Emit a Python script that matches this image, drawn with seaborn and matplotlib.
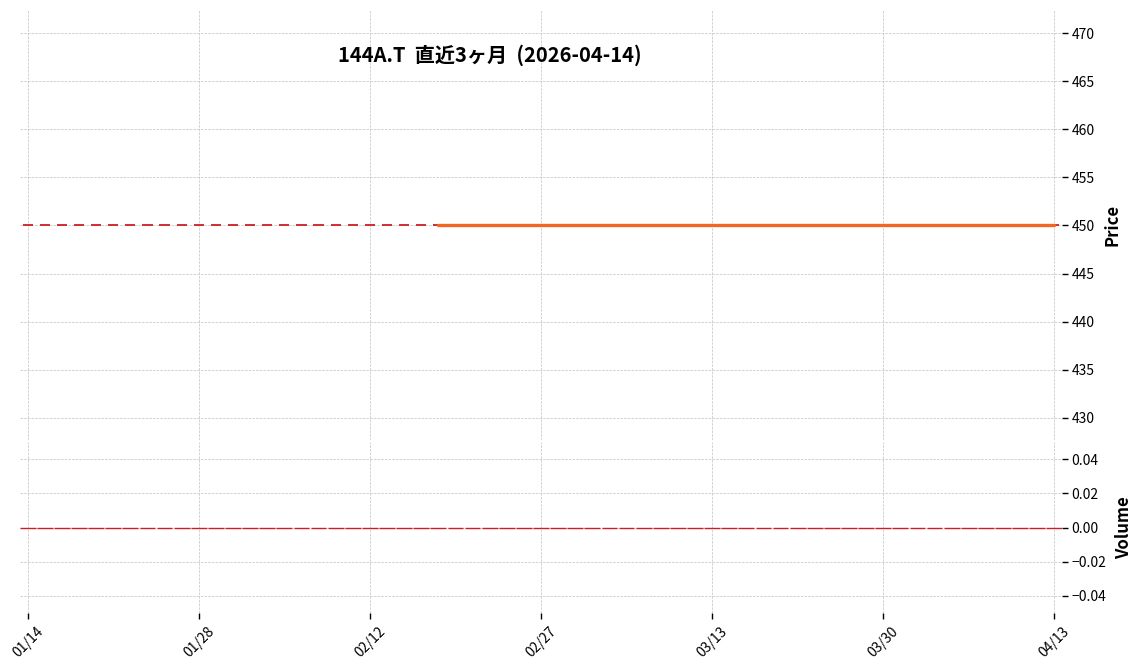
import pandas as pd
import numpy as np
import matplotlib
matplotlib.use("Agg")
import matplotlib.pyplot as plt
import seaborn as sns

# -------------------------------
# Data (trading days, 144A.T, last 3 months)
# -------------------------------
dates = [
    "2026-01-14", "2026-01-15", "2026-01-16", "2026-01-19", "2026-01-20",
    "2026-01-21", "2026-01-22", "2026-01-23", "2026-01-26", "2026-01-27",
    "2026-01-28", "2026-01-29", "2026-01-30", "2026-02-02", "2026-02-03",
    "2026-02-04", "2026-02-05", "2026-02-06", "2026-02-09", "2026-02-10",
    "2026-02-12", "2026-02-13", "2026-02-16", "2026-02-17", "2026-02-18",
    "2026-02-19", "2026-02-20", "2026-02-24", "2026-02-25", "2026-02-26",
    "2026-02-27", "2026-03-02", "2026-03-03", "2026-03-04", "2026-03-05",
    "2026-03-06", "2026-03-09", "2026-03-10", "2026-03-11", "2026-03-12",
    "2026-03-13", "2026-03-16", "2026-03-17", "2026-03-18", "2026-03-19",
    "2026-03-23", "2026-03-24", "2026-03-25", "2026-03-26", "2026-03-27",
    "2026-03-30", "2026-03-31", "2026-04-01", "2026-04-02", "2026-04-03",
    "2026-04-06", "2026-04-07", "2026-04-08", "2026-04-09", "2026-04-10",
    "2026-04-13",
]
# price never moved: every bar is a doji at 450, no volume traded
open_ = [450.0] * len(dates)
close = [450.0] * len(dates)
volume = [0] * len(dates)
tick_labels = ["01/14", "01/28", "02/12", "02/27", "03/13", "03/30", "04/13"]

df = pd.DataFrame({"date": pd.to_datetime(dates), "open": open_,
                   "close": close, "volume": volume})
df["idx"] = np.arange(len(df))
df["ma25"] = df["close"].rolling(25).mean()

# -------------------------------
# Style
# -------------------------------
sns.set_style("whitegrid", {"grid.color": "#c0c0c0", "grid.linestyle": "--",
                            "axes.edgecolor": "white"})
plt.rcParams["font.family"] = ["Noto Sans CJK JP", "DejaVu Sans"]
plt.rcParams["text.color"] = "black"
plt.rcParams["axes.labelcolor"] = "black"
plt.rcParams["xtick.color"] = "black"
plt.rcParams["ytick.color"] = "black"

fig = plt.figure(figsize=(11.41, 6.70), dpi=100)
W, H = 1141, 670
left, right = 20 / W, 1062 / W
ax_p = fig.add_axes([left, 1 - 440 / H, right - left, 430 / H])
ax_v = fig.add_axes([left, 1 - 613 / H, right - left, 171 / H], sharex=ax_p)

red = "#cc1f24"
orange = "#f26522"

# candles (doji -> flat body edges)
ax_p.bar(df["idx"], df["close"] - df["open"], bottom=df["open"], width=0.6,
         color=red, edgecolor=red, linewidth=1.3, zorder=3)
sns.lineplot(data=df, x="idx", y="ma25", color=orange, linewidth=2.4,
             ax=ax_p, zorder=4)

# volume
ax_v.bar(df["idx"], df["volume"], width=0.92, color=red, edgecolor=red,
         linewidth=1.0, zorder=3)

ax_p.set_xlim(-0.45, len(df) - 1 + 0.45)
ax_p.set_ylim(427.7, 472.4)
ax_p.set_yticks(np.arange(430, 471, 5))
ax_v.set_ylim(-0.05, 0.05)
ax_v.set_yticks([-0.04, -0.02, 0.0, 0.02, 0.04])
ax_v.set_yticklabels(["\u22120.04", "\u22120.02", "0.00", "0.02", "0.04"])

tick_pos = [dates.index(pd.Timestamp(f"2026-{t[:2]}-{t[3:]}").strftime("%Y-%m-%d"))
            for t in tick_labels]
ax_v.set_xticks(tick_pos)
ax_v.set_xticklabels(tick_labels, rotation=45, ha="center", fontsize=10)
ax_p.tick_params(axis="x", labelbottom=False, length=0)

for ax, lab in [(ax_p, "Price"), (ax_v, "Volume")]:
    for s in ax.spines.values():
        s.set_visible(False)
    ax.yaxis.tick_right()
    ax.yaxis.set_label_position("right")
    ax.tick_params(axis="y", length=4, width=1, color="black", labelsize=10,
                   pad=3, right=True, left=False)
    ax.set_ylabel(lab, fontsize=12, fontweight="bold", labelpad=6)
    ax.set_xlabel("")
    ax.grid(True, linestyle="--", color="#c0c0c0", linewidth=0.5)
ax_v.tick_params(axis="x", length=4, width=1, color="black", bottom=True,
                 pad=4)

fig.text(490 / W, 1 - 55 / H, "144A.T  直近3ヶ月  (2026-04-14)",
         ha="center", va="center", fontsize=14.5, fontweight="bold")

fig.savefig("out.png", dpi=100)
